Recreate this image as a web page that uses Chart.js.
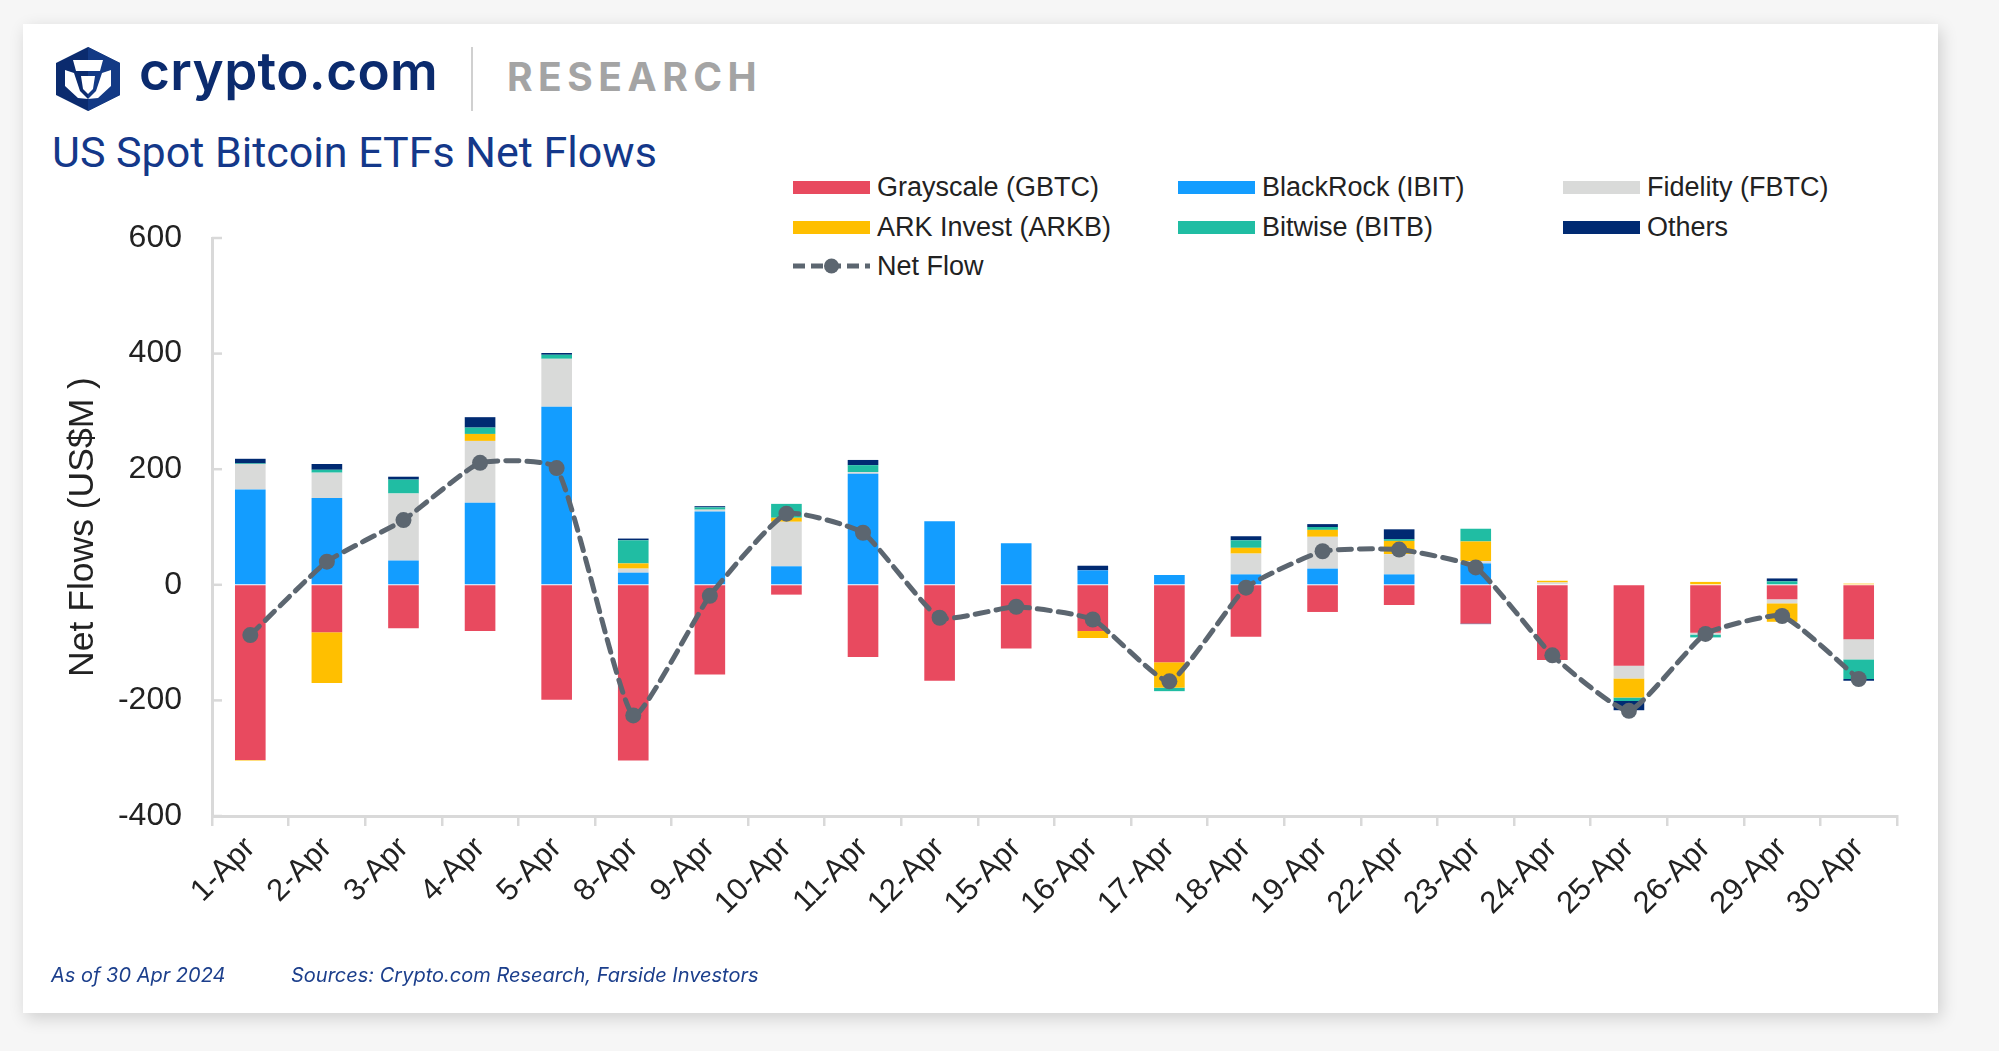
<!DOCTYPE html>
<html>
<head>
<meta charset="utf-8">
<script src="https://cdn.jsdelivr.net/npm/chart.js@4.4.1/dist/chart.umd.min.js"></script>
<style>
  html, body { margin: 0; padding: 0; }
  body { width: 1999px; height: 1051px; background: #f6f6f6; position: relative; overflow: hidden; font-family: "Liberation Sans", Arial, sans-serif; }
  #card { position: absolute; left: 23px; top: 24px; width: 1915px; height: 989px; background: #fff; box-shadow: 3px 5px 16px rgba(0,0,0,0.16); }
  #chart { position: absolute; left: 0; top: 0; }
  .brand { position: absolute; left: 139px; top: 39px; font-family: Inter, sans-serif; font-weight: 600; font-size: 53px; color: #0b2b6e; letter-spacing: 0.4px; }
  .divider { position: absolute; left: 471px; top: 47px; width: 2px; height: 64px; background: #d0d0d0; }
  .research { position: absolute; left: 507px; top: 53px; font-family: Inter, sans-serif; font-weight: 700; font-size: 39px; color: #a4a4a4; letter-spacing: 5.5px; }
  .title { position: absolute; left: 52px; top: 127px; font-family: Roboto, sans-serif; font-size: 43px; color: #14388a; white-space: nowrap; }
  .legend-item { position: absolute; display: flex; align-items: center; font-size: 27px; color: #222; white-space: nowrap; }
  .swatch { width: 77px; height: 13px; margin-right: 7px; }
  .foot { position: absolute; top: 963px; font-family: Inter, sans-serif; font-style: italic; font-size: 20px; color: #1c3f8c; white-space: nowrap; }
</style>
</head>
<body>
<div id="card"></div>
<svg style="position:absolute;left:0;top:0" width="200" height="130">
  <polygon points="88,47 120,63 120,95 88,111 56,95 56,63" fill="#0b2b6e"/>
  <polygon points="88,47 120,63 120,95 88,111" fill="#133a85"/>
  <polygon points="73,60 103,60 100,71 76,71" fill="#fff"/>
  <polygon points="65,70 74,73 80,91 88,99 78,98 65,86" fill="#fff"/>
  <polygon points="111,70 102,73 96,91 88,99 98,98 111,86" fill="#fff"/>
  <polygon points="81,76 95,76 93,89 88,94 83,89" fill="#fff"/>
</svg>
<div class="brand">crypto.com</div>
<div class="divider"></div>
<div class="research">RESEARCH</div>
<div class="title">US Spot Bitcoin ETFs Net Flows</div>
<div id="legend"></div>
<canvas id="chart" width="1999" height="1051"></canvas>
<div class="foot" style="left:51px">As of 30 Apr 2024</div>
<div class="foot" style="left:291px">Sources: Crypto.com Research, Farside Investors</div>

<script>
const labels = ['1-Apr', '2-Apr', '3-Apr', '4-Apr', '5-Apr', '8-Apr', '9-Apr', '10-Apr', '11-Apr', '12-Apr', '15-Apr',
  '16-Apr', '17-Apr', '18-Apr', '19-Apr', '22-Apr', '23-Apr', '24-Apr', '25-Apr', '26-Apr', '29-Apr', '30-Apr'];

// US$M per day
const gbtc   = [-303, -82, -75, -80, -199, -304, -155, -17, -125, -166, -110, -80, -134, -90, -47, -35, -67, -130, -140, -83, -25, -94];
const ibit   = [165, 150, 42, 142, 308, 21, 127, 32, 192, 110, 72, 25, 17, 18, 28, 18, 37, 0, 0, 0, 0, 0];
const fbtc   = [44, 44, 116, 107, 83, 7, 3, 77, 3, 0, 0, 0, 0, 36, 55, 35, 4, 4, -22, -3, -7, -35];
const arkb   = [-1, -88, 0, 12, 0, 9, 0, 7, 0, 0, 0, -12, -44, 10, 12, 23, 34, 3, -33, 5, -32, 2];
const bitb   = [1, 5, 24, 11, 7, 40, 4, 24, 12, 0, 0, 0, -6, 13, 5, 3, 22, 0, -6, -5, 6, -34];
const others = [8, 10, 5, 18, 3, 3, 2, 0, 9, 0, 0, 8, 0, 7, 5, 17, -1, 0, -16, 0, 5, -3];
const netFlow = [-87, 40, 112, 211, 202, -226, -19, 123, 90, -57, -38, -60, -167, -5, 58, 61, 30, -122, -218, -85, -54, -163];

const yTicks = [-400, -200, 0, 200, 400, 600];

const seriesNames = ['Grayscale (GBTC)', 'BlackRock (IBIT)', 'Fidelity (FBTC)', 'ARK Invest (ARKB)', 'Bitwise (BITB)', 'Others'];
const seriesData = [gbtc, ibit, fbtc, arkb, bitb, others];
const seriesColors = ['#e84a5f', '#139dff', '#d9dad9', '#ffbf00', '#20bda3', '#002a72'];
const lineColor = '#5c6670';

function buildLegend() {
  const legend = document.getElementById('legend');
  const cols = [793, 1178, 1563];
  const rows = [187, 227, 266];
  seriesNames.forEach((name, i) => {
    const item = document.createElement('div');
    item.className = 'legend-item';
    item.style.left = cols[i % 3] + 'px';
    item.style.top = (rows[Math.floor(i / 3)] - 16) + 'px';
    item.style.height = '32px';
    item.innerHTML = `<div class="swatch" style="background:${seriesColors[i]}"></div>${name}`;
    legend.appendChild(item);
  });
  const net = document.createElement('div');
  net.className = 'legend-item';
  net.style.left = cols[0] + 'px';
  net.style.top = (rows[2] - 16) + 'px';
  net.style.height = '32px';
  net.innerHTML = `<svg width="77" height="20" style="margin-right:7px">
      <line x1="0" y1="10" x2="77" y2="10" stroke="${lineColor}" stroke-width="5" stroke-dasharray="12 6"/>
      <circle cx="38.5" cy="10" r="7.5" fill="${lineColor}"/></svg>Net Flow`;
  legend.appendChild(net);
}

const yInnerTicks = {
  id: 'yInnerTicks',
  afterDraw(chart) {
    const y = chart.scales.y;
    const left = chart.chartArea.left;
    const ctx = chart.ctx;
    ctx.save();
    ctx.strokeStyle = '#d9d9d9';
    ctx.lineWidth = 2.5;
    y.ticks.forEach(t => {
      const py = y.getPixelForValue(t.value);
      ctx.beginPath();
      ctx.moveTo(left, py);
      ctx.lineTo(left + 10, py);
      ctx.stroke();
    });
    ctx.restore();
  }
};

function renderChart() {
  const ctx = document.getElementById('chart').getContext('2d');

  const datasets = seriesNames.map((name, i) => ({
    type: 'bar',
    label: name,
    data: seriesData[i],
    backgroundColor: seriesColors[i],
    borderWidth: 0,
    stack: 'flows',
    order: 1,
    barPercentage: 0.4,
    categoryPercentage: 1.0
  }));

  datasets.push({
    type: 'line',
    label: 'Net Flow',
    data: netFlow,
    borderColor: lineColor,
    backgroundColor: lineColor,
    borderWidth: 5,
    borderDash: [13, 8],
    borderCapStyle: 'round',
    tension: 0.15,
    pointRadius: 8,
    pointBorderWidth: 0,
    pointBackgroundColor: lineColor,
    stack: 'net',
    order: 0
  });

  new Chart(ctx, {
    data: { labels, datasets },
    plugins: [yInnerTicks],
    options: {
      responsive: false,
      animation: false,
      layout: { padding: { left: 0, top: 238, right: 102, bottom: 85 } },
      plugins: { legend: { display: false }, tooltip: { enabled: false } },
      scales: {
        x: {
          stacked: true,
          afterFit: scale => { scale.height = 150; },
          grid: { display: true, drawOnChartArea: false, drawTicks: true, tickLength: 10, color: '#d9d9d9', lineWidth: 2.5, offset: true },
          border: { display: true, color: '#d9d9d9', width: 3 },
          ticks: {
            autoSkip: false, minRotation: 45, maxRotation: 45, padding: 4,
            color: '#222', font: { family: '"Liberation Sans", Arial, sans-serif', size: 31 }
          }
        },
        y: {
          stacked: true,
          min: -400,
          max: 600,
          afterFit: scale => { scale.width = 212; },
          afterBuildTicks: scale => { scale.ticks = yTicks.map(v => ({ value: v })); },
          grid: { display: true, drawOnChartArea: false, drawTicks: false, color: 'rgba(0,0,0,0)' },
          border: { display: true, color: '#d9d9d9', width: 3 },
          ticks: {
            padding: 30, color: '#222',
            font: { family: '"Liberation Sans", Arial, sans-serif', size: 32 }
          },
          title: {
            display: true, text: 'Net Flows (US$M )', color: '#222',
            padding: { top: 62 },
            font: { family: '"Liberation Sans", Arial, sans-serif', size: 35.5 }
          }
        }
      }
    }
  });
}

document.addEventListener('DOMContentLoaded', () => {
  buildLegend();
  renderChart();
});
</script>
</body>
</html>
